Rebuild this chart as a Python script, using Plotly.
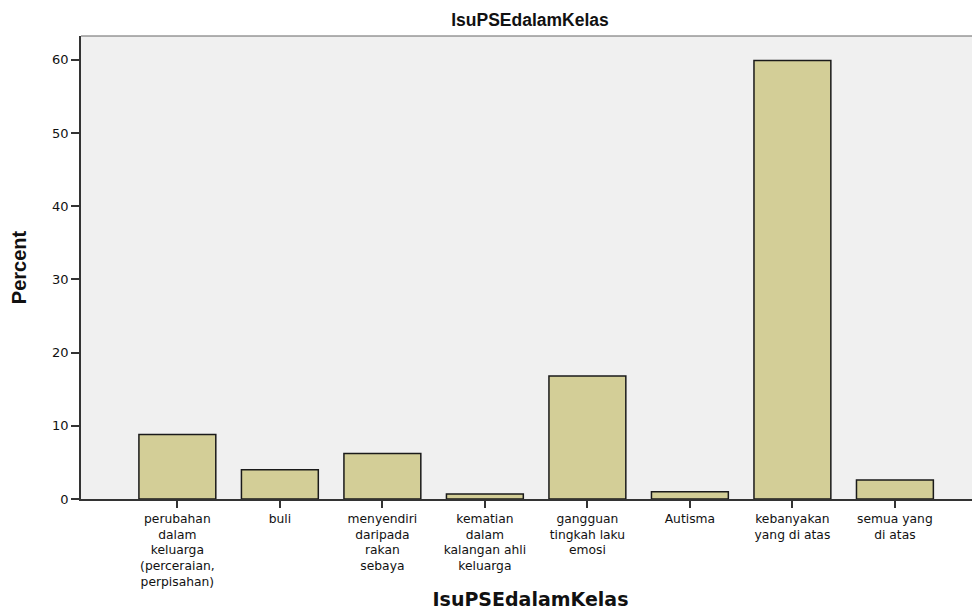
import plotly.graph_objects as go

categories = [
    "perubahan dalam keluarga (perceraian, perpisahan)",
    "buli",
    "menyendiri daripada rakan sebaya",
    "kematian dalam kalangan ahli keluarga",
    "gangguan tingkah laku emosi",
    "Autisma",
    "kebanyakan yang di atas",
    "semua yang di atas",
]
tick_labels = [
    "perubahan<br>dalam<br>keluarga<br>(perceraian,<br>perpisahan)",
    "buli",
    "menyendiri<br>daripada<br>rakan<br>sebaya",
    "kematian<br>dalam<br>kalangan ahli<br>keluarga",
    "gangguan<br>tingkah laku<br>emosi",
    "Autisma",
    "kebanyakan<br>yang di atas",
    "semua yang<br>di atas",
]
percent = [8.8, 4.0, 6.2, 0.7, 16.8, 1.0, 59.9, 2.6]
y_ticks = [0, 10, 20, 30, 40, 50, 60]

NARROW = "Liberation Sans Narrow, Arial Narrow, Liberation Sans, Arial"

fig = go.Figure()
fig.add_trace(go.Bar(
    x=categories,
    y=percent,
    width=0.75,
    marker=dict(color="#d3ce97", line=dict(color="#1a1a1a", width=1.5)),
))

fig.update_layout(
    width=972, height=602,
    margin=dict(l=73, r=0, t=28, b=111),
    paper_bgcolor="white",
    plot_bgcolor="#f0f0f0",
    showlegend=False,
    title=dict(
        text="<b>IsuPSEdalamKelas</b>",
        x=0.537, xanchor="center", y=0.980, yanchor="middle",
        font=dict(family=NARROW, size=17.5, color="#111111"),
    ),
    font=dict(family="DejaVu Sans", size=12, color="#111111"),
)

fig.update_xaxes(
    type="category",
    tickmode="array",
    tickvals=categories,
    ticktext=tick_labels,
    range=[-0.94, 7.83],
    ticks="outside", ticklen=7, tickwidth=2, tickcolor="#333333",
    showline=True, linecolor="#333333", linewidth=1.5,
    showgrid=False,
    tickangle=0,
    tickfont=dict(family="DejaVu Sans", size=12.3, color="#111111"),
    title=dict(text="<b>IsuPSEdalamKelas</b>", standoff=6,
               font=dict(family="DejaVu Sans", size=19, color="#111111")),
    automargin=False,
)
fig.update_yaxes(
    range=[0, 63.25],
    tickmode="array",
    tickvals=y_ticks,
    ticks="outside", ticklen=8, tickwidth=1.5, tickcolor="#333333",
    showline=True, linecolor="#333333", linewidth=1.5,
    showgrid=False, zeroline=False,
    tickfont=dict(family="DejaVu Sans", size=13, color="#111111"),
    title=dict(text="<b>Percent</b>", standoff=27,
               font=dict(family=NARROW, size=20, color="#111111")),
    automargin=False,
)

fig.add_shape(type="line", xref="paper", yref="paper", x0=0, x1=1, y0=1, y1=1,
              line=dict(color="#666666", width=1.2))

fig.write_html("out.html")
